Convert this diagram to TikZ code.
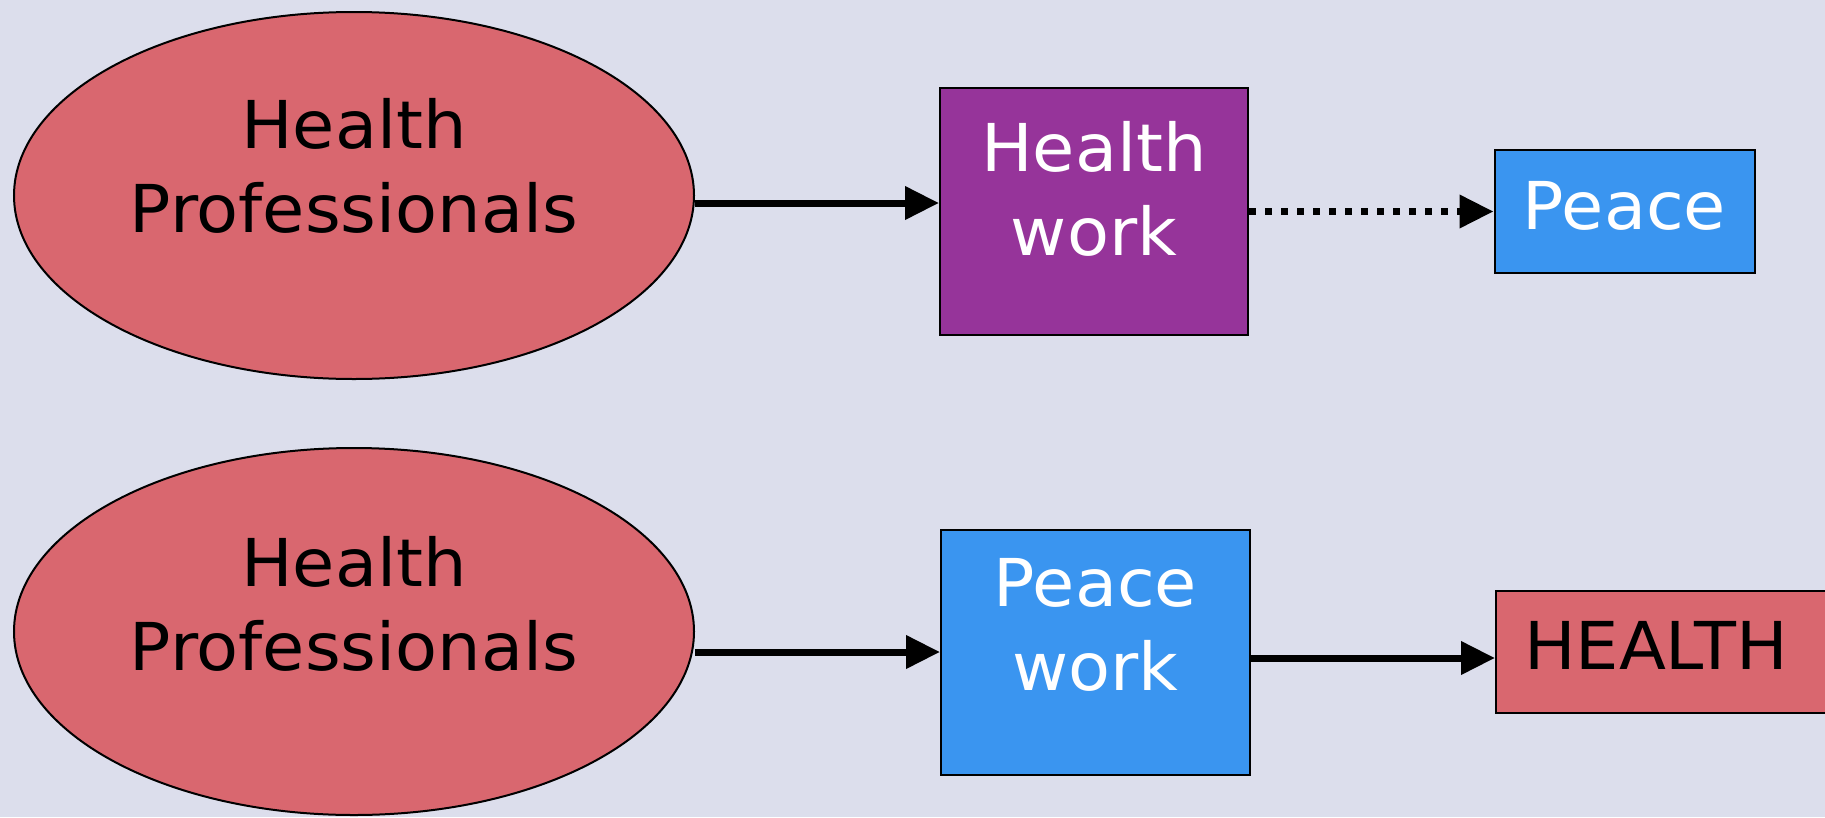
\documentclass[tikz,border=0pt]{standalone}
\usepackage{fontspec}
\setmainfont[FakeStretch=1.04]{DejaVu Sans}
\usetikzlibrary{arrows.meta,shapes.geometric,calc}
\definecolor{bg}{HTML}{DCDEEC}
\definecolor{redfill}{HTML}{D9676F}
\definecolor{purplefill}{HTML}{96349A}
\definecolor{bluefill}{HTML}{3A95F0}
\begin{document}
\begin{tikzpicture}[x=1pt,y=-1pt,
  lbl/.style={font=\fontsize{66}{84}\selectfont, align=center, inner sep=0pt},
  prof/.style={lbl, ellipse, draw=black, line width=2pt, fill=redfill,
    minimum width=680pt, minimum height=367pt, text=black},
  box/.style={lbl, rectangle, draw=black, line width=2pt},
  arr/.style={line width=7pt, -{Triangle[length=34pt,width=32pt]}},
]
\useasboundingbox (0,0) rectangle (1825,817);
\fill[bg] (0,0) rectangle (1825,817);
\clip (0,0) rectangle (1825,817);

\node[prof, text depth=61pt] (hp1) at (354,195.5) {Health\\Professionals};
\node[prof, text depth=56pt] (hp2) at (354,631.5) {Health\\Professionals};

\node[box, fill=purplefill, text=white, minimum width=308pt, minimum height=247pt,
  text depth=47pt] (hw) at (1094,211.5) {Health\\work};
\node[box, fill=bluefill, text=white, minimum width=260pt, minimum height=123pt,
  text depth=13pt] (pc) at (1624.5,211.5) {Peace};

\node[box, fill=bluefill, text=white, minimum width=309pt, minimum height=245pt,
  text depth=56pt] (pw) at (1095.5,652) {Peace\\work};
\node[box, fill=redfill, text=black, minimum width=345pt, minimum height=122pt,
  text width=289pt, align=left, text depth=13pt, anchor=west] (ht) at (1495,651.5) {HEALTH};

\coordinate (a1) at ($(hp1.east)+(0,7.5)$);
\draw[arr] (a1) -- (a1 -| hw.west);
\draw[arr, dash pattern=on 7pt off 9pt] (hw.east) -- (pc.west);
\draw[arr] (hp2.east |- pw.west) -- (pw.west);
\coordinate (a4) at ($(pw.east)+(0,6)$);
\draw[arr] (a4) -- (a4 -| ht.west);
\end{tikzpicture}
\end{document}
